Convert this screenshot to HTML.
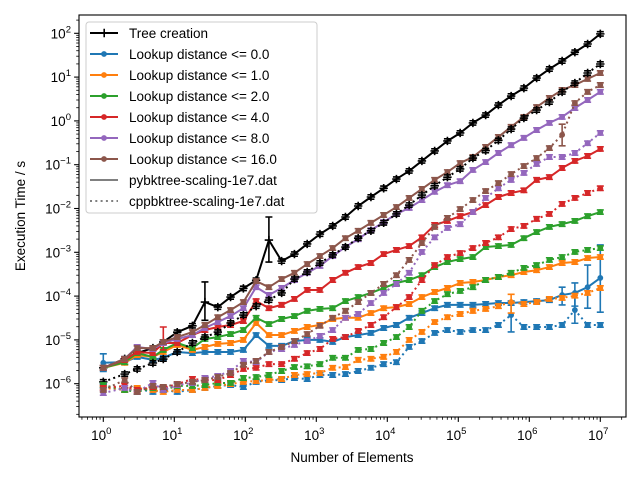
<!DOCTYPE html>
<html><head><meta charset="utf-8"><style>
html,body{margin:0;padding:0;background:#fff;}
svg{display:block;font-family:"Liberation Sans","DejaVu Sans",sans-serif;}
</style></head><body>
<svg id="chart" width="640" height="480" viewBox="0 0 640 480" xmlns="http://www.w3.org/2000/svg">
<rect x="0" y="0" width="640" height="480" fill="#fff"/>
<g id="plot"></g>
<g id="axes"></g>
<g id="legend"></g>
</svg>
<script>
const nElements = [1,2,3,5,7,11,18,27,41,62,94,142,215,325,492,744,1125,1701,2572,3889,5879,8891,13442,20323,30727,46458,70243,106198,160566,242762,367036,554925,838995,1268460,1917910,2899650,4384000,6628520,10000000];
const treePy = [2.3e-6,3.7e-6,5.0e-6,6.5e-6,9.0e-6,1.5e-5,2.1e-5,7.3e-5,5.6e-5,9.5e-5,1.5e-4,2.3e-4,1.9e-3,6.3e-4,9.1e-4,1.55e-3,2.6e-3,4.0e-3,6.4e-3,1.14e-2,1.83e-2,2.9e-2,4.7e-2,7.2e-2,0.122,0.206,0.348,0.53,0.90,1.36,2.3,3.7,5.6,9.5,15.3,23.3,37,57,97];
const bluePy = [3.0e-6,3.1e-6,4.1e-6,3.5e-6,3.9e-6,5.3e-6,5.0e-6,5.3e-6,5.3e-6,5.3e-6,5.9e-6,1.29e-5,7.3e-6,7.3e-6,9.4e-6,1.0e-5,1.0e-5,9.0e-6,1.16e-5,1.29e-5,1.44e-5,1.87e-5,2.19e-5,3.2e-5,4.1e-5,5.3e-5,6.3e-5,6.3e-5,6.3e-5,6.6e-5,6.95e-5,6.95e-5,7.3e-5,7.7e-5,8.1e-5,1.06e-4,1.18e-4,1.6e-4,2.6e-4];
const orangePy = [2.3e-6,3.0e-6,4.5e-6,4.1e-6,5.3e-6,7.7e-6,5.9e-6,6.9e-6,8.1e-6,8.5e-6,1.0e-5,2.43e-5,1.29e-5,1.29e-5,1.6e-5,1.97e-5,2.19e-5,3.0e-5,3.2e-5,3.2e-5,4.1e-5,5.3e-5,5.6e-5,6.6e-5,9.5e-5,1.24e-4,1.53e-4,1.99e-4,2.1e-4,2.33e-4,2.73e-4,3.0e-4,3.55e-4,3.9e-4,4.6e-4,5.7e-4,6.0e-4,7.4e-4,7.8e-4];
const greenPy = [2.3e-6,3.1e-6,5.0e-6,4.1e-6,5.9e-6,8.5e-6,6.5e-6,1.05e-5,1.16e-5,1.36e-5,1.68e-5,3.2e-5,2.3e-5,3.0e-5,3.5e-5,4.6e-5,5.1e-5,5.3e-5,7.7e-5,9.5e-5,1.18e-4,1.53e-4,1.99e-4,2.33e-4,3.0e-4,4.6e-4,6.0e-4,7.0e-4,7.8e-4,1.32e-3,1.39e-3,1.47e-3,2.1e-3,2.9e-3,3.8e-3,4.4e-3,5.2e-3,6.7e-3,8.3e-3];
const redPy = [2.3e-6,3.5e-6,5.3e-6,5.0e-6,8.5e-6,8.5e-6,1.29e-5,1.68e-5,1.97e-5,2.19e-5,2.7e-5,7.7e-5,5.3e-5,6.3e-5,8.6e-5,1.38e-4,1.38e-4,2.33e-4,3.4e-4,4.6e-4,5.7e-4,9.1e-4,1.13e-3,1.39e-3,2.2e-3,4.2e-3,5.2e-3,6.7e-3,8.3e-3,1.2e-2,1.83e-2,2.26e-2,2.6e-2,4.5e-2,5.2e-2,8.4e-2,0.122,0.158,0.229];
const purplePy = [2.3e-6,3.7e-6,6.9e-6,6.2e-6,8.5e-6,1.05e-5,1.29e-5,1.87e-5,2.56e-5,3.5e-5,5.3e-5,1.6e-4,1.06e-4,1.53e-4,2.33e-4,3.4e-4,4.9e-4,8.2e-4,1.32e-3,2.0e-3,3.2e-3,4.9e-3,7.5e-3,1.03e-2,1.56e-2,2.4e-2,3.4e-2,4.2e-2,7.6e-2,0.115,0.185,0.28,0.41,0.62,0.90,1.23,1.97,3.0,4.6];
const brownPy = [2.3e-6,3.7e-6,6.5e-6,6.5e-6,9.0e-6,1.16e-5,1.51e-5,2.19e-5,3.3e-5,4.8e-5,7.3e-5,2.2e-4,1.6e-4,2.45e-4,3.4e-4,5.4e-4,8.2e-4,1.25e-3,2.1e-3,3.1e-3,4.7e-3,7.1e-3,1.08e-2,1.74e-2,2.8e-2,4.5e-2,6.8e-2,0.109,0.15,0.254,0.43,0.73,1.23,2.07,3.33,5.1,6.6,9.1,12.4];
const treeCpp = [1.1e-6,1.66e-6,2.17e-6,2.97e-6,3.66e-6,5.3e-6,8.5e-6,1.16e-5,1.51e-5,2.43e-5,3.7e-5,5.9e-5,8.1e-5,1.18e-4,2.45e-4,3.55e-4,5.7e-4,8.7e-4,1.32e-3,2.1e-3,3.1e-3,4.7e-3,7.5e-3,1.2e-2,2.03e-2,3.3e-2,5.2e-2,8.0e-2,0.142,0.21,0.36,0.65,1.16,1.77,2.7,4.6,7.3,12.4,19.9];
const blueCpp = [8.9e-7,7.2e-7,7.6e-7,6.5e-7,7.2e-7,6.5e-7,7.2e-7,8.0e-7,8.9e-7,9.3e-7,8.4e-7,1.1e-6,1.21e-6,1.21e-6,1.35e-6,1.28e-6,1.58e-6,1.58e-6,1.66e-6,1.95e-6,2.3e-6,2.8e-6,3.1e-6,6.9e-6,9.4e-6,1.44e-5,1.68e-5,1.52e-5,1.68e-5,1.68e-5,2.19e-5,3.7e-5,1.97e-5,1.97e-5,1.97e-5,2.19e-5,4.8e-5,2.19e-5,2.19e-5];
const orangeCpp = [8.0e-7,7.2e-7,8.0e-7,7.2e-7,6.5e-7,7.2e-7,7.2e-7,8.0e-7,8.9e-7,9.8e-7,1.1e-6,1.15e-6,1.21e-6,1.28e-6,1.58e-6,1.66e-6,1.75e-6,2.3e-6,2.4e-6,3.5e-6,3.7e-6,4.1e-6,5.3e-6,1.0e-5,1.52e-5,2.56e-5,3.3e-5,3.9e-5,4.6e-5,5.1e-5,5.9e-5,7.3e-5,6.6e-5,7.3e-5,8.6e-5,9.1e-5,1.02e-4,1.18e-4,1.53e-4];
const greenCpp = [9.3e-7,7.2e-7,6.5e-7,8.0e-7,7.2e-7,8.9e-7,8.9e-7,9.3e-7,1.04e-6,1.04e-6,1.35e-6,1.42e-6,1.58e-6,1.95e-6,2.4e-6,2.5e-6,2.8e-6,3.9e-6,3.9e-6,5.9e-6,6.2e-6,8.5e-6,1.16e-5,1.97e-5,4.6e-5,7.7e-5,1.11e-4,1.31e-4,1.6e-4,2.33e-4,2.73e-4,3.4e-4,4.4e-4,5.1e-4,6.7e-4,7.8e-4,1.02e-3,1.13e-3,1.25e-3];
const redCpp = [8.0e-7,8.9e-7,7.2e-7,8.4e-7,8.0e-7,9.8e-7,1.28e-6,1.21e-6,1.21e-6,1.58e-6,2.17e-6,2.3e-6,2.8e-6,2.8e-6,3.7e-6,5.0e-6,6.2e-6,1.05e-5,1.16e-5,1.6e-5,2.19e-5,3.3e-5,5.6e-5,9.5e-5,2.33e-4,5.1e-4,7.8e-4,9.6e-4,1.25e-3,1.63e-3,2.2e-3,3.4e-3,4.0e-3,5.8e-3,7.5e-3,1.27e-2,1.74e-2,2.26e-2,2.9e-2];
const purpleCpp = [6.1e-7,8.0e-7,6.5e-7,1.04e-6,7.2e-7,9.3e-7,1.04e-6,1.35e-6,1.5e-6,1.95e-6,3.3e-6,3.1e-6,5.3e-6,6.2e-6,7.7e-6,9.4e-6,1.23e-5,1.68e-5,3.2e-5,3.9e-5,6.95e-5,1.18e-4,1.89e-4,3.4e-4,1.02e-3,2.2e-3,3.6e-3,4.4e-3,8.3e-3,1.74e-2,2.9e-2,4.5e-2,6.5e-2,0.104,0.15,0.15,0.185,0.31,0.53];
const brownCpp = [7.2e-7,1.21e-6,6.5e-7,8.9e-7,8.4e-7,9.8e-7,1.1e-6,1.21e-6,1.42e-6,1.75e-6,2.7e-6,3.3e-6,5.3e-6,6.9e-6,9.4e-6,1.36e-5,2.1e-5,3.2e-5,4.6e-5,7.3e-5,1.18e-4,1.89e-4,3.0e-4,6.7e-4,1.63e-3,3.8e-3,6.1e-3,9.7e-3,1.56e-2,2.5e-2,3.8e-2,6.1e-2,9.3e-2,0.142,0.24,0.48,2.56,4.6,6.6];
// large error bars: [seriesKey, index, low, high]
const bigErrors = [["treePy",7,2.8e-5,2.1e-4],["treePy",12,6.0e-4,6.4e-3],["redPy",4,5.9e-6,1.97e-5],["bluePy",0,1.9e-6,4.8e-6],["bluePy",35,6.3e-5,1.6e-4],["bluePy",36,5.9e-5,2.0e-4],["bluePy",37,5.3e-5,5.1e-4],["bluePy",38,4.3e-5,1.47e-3],["blueCpp",31,1.52e-5,7.3e-5],["blueCpp",36,2.4e-5,1.18e-4],["brownCpp",35,0.27,0.84],["orangeCpp",31,4.1e-5,1.1e-4]];
const xTickLabels = ["0","1","2","3","4","5","6","7"];
const yTickLabels = ["-6","-5","-4","-3","-2","-1","0","1","2"];

const L=79,R=626,T=15,B=417;
function xs(v){return 103.3+71*Math.log10(v);}
function ys(v){return 383.7-43.8*(Math.log10(v)+6);}
const NS="http://www.w3.org/2000/svg";
function mk(tag,attrs,parent){const e=document.createElementNS(NS,tag);for(const k in attrs)e.setAttribute(k,attrs[k]);parent.appendChild(e);return e;}
const plot=document.getElementById('plot'),axes=document.getElementById('axes'),legend=document.getElementById('legend');
const clip=mk('clipPath',{id:'pc'},plot);mk('rect',{x:L,y:T,width:R-L,height:B-T},clip);
const seriesList=[
 {key:"treePy",data:treePy,color:"#000000",dash:null,marker:"plus",name:"tree-creation-py"},
 {key:"bluePy",data:bluePy,color:"#1f77b4",dash:null,marker:"dot",name:"lookup-0-py"},
 {key:"orangePy",data:orangePy,color:"#ff7f0e",dash:null,marker:"dot",name:"lookup-1-py"},
 {key:"greenPy",data:greenPy,color:"#2ca02c",dash:null,marker:"dot",name:"lookup-2-py"},
 {key:"redPy",data:redPy,color:"#d62728",dash:null,marker:"dot",name:"lookup-4-py"},
 {key:"purplePy",data:purplePy,color:"#9467bd",dash:null,marker:"dot",name:"lookup-8-py"},
 {key:"brownPy",data:brownPy,color:"#8c564b",dash:null,marker:"dot",name:"lookup-16-py"},
 {key:"treeCpp",data:treeCpp,color:"#000000",dash:"2,3.3",marker:"plus",name:"tree-creation-cpp"},
 {key:"blueCpp",data:blueCpp,color:"#1f77b4",dash:"2,3.3",marker:"dot",name:"lookup-0-cpp"},
 {key:"orangeCpp",data:orangeCpp,color:"#ff7f0e",dash:"2,3.3",marker:"dot",name:"lookup-1-cpp"},
 {key:"greenCpp",data:greenCpp,color:"#2ca02c",dash:"2,3.3",marker:"dot",name:"lookup-2-cpp"},
 {key:"redCpp",data:redCpp,color:"#d62728",dash:"2,3.3",marker:"dot",name:"lookup-4-cpp"},
 {key:"purpleCpp",data:purpleCpp,color:"#9467bd",dash:"2,3.3",marker:"dot",name:"lookup-8-cpp"},
 {key:"brownCpp",data:brownCpp,color:"#8c564b",dash:"2,3.3",marker:"dot",name:"lookup-16-cpp"}];
const pg=mk('g',{'clip-path':'url(#pc)'},plot);
seriesList.forEach(s=>{
  const g=mk('g',{},pg);
  
  
  // error bars
  s.data.forEach((v,i)=>{
    let lo=v/1.12,hi=v*1.12;
    bigErrors.forEach(b=>{if(b[0]===s.key&&b[1]===i){lo=b[2];hi=b[3];}});
    const x=xs(nElements[i]),y1=ys(lo),y2=ys(hi);
    const eb=mk('path',{d:`M${x},${y1}V${y2}M${x-3.5},${y1}h7M${x-3.5},${y2}h7`,stroke:s.color,'stroke-width':1.6,fill:'none'},g);
    
    
  });
  const pts=s.data.map((v,i)=>xs(nElements[i]).toFixed(2)+','+ys(v).toFixed(2)).join(' ');
  const line=mk('polyline',{points:pts,fill:'none',stroke:s.color,'stroke-width':2,'stroke-linejoin':'round'},g);
  if(s.dash)line.setAttribute('stroke-dasharray',s.dash);
  
  
  s.data.forEach((v,i)=>{
    const x=xs(nElements[i]),y=ys(v);
    let m;
    if(s.marker==='plus'){m=mk('path',{d:`M${x-4.2},${y}h8.4M${x},${y-4.2}v8.4`,stroke:s.color,'stroke-width':1.6},g);}
    else{m=mk('circle',{cx:x,cy:y,r:2.9,fill:s.color},g);}
    
    
  });
});
// frame
mk('rect',{x:L,y:T,width:R-L,height:B-T,fill:'none',stroke:'#000','stroke-width':1.1},axes);
// x ticks
for(let d=-1;d<=7;d++){
  for(let m=1;m<10;m++){
    const v=m*Math.pow(10,d),x=xs(v);
    if(x<L||x>R)continue;
    mk('line',{x1:x,x2:x,y1:B,y2:B+(m===1?4.9:2.8),stroke:'#000','stroke-width':m===1?1.1:0.8},axes);
  }
}
xTickLabels.forEach(e=>{
  const t=mk('text',{x:xs(Math.pow(10,+e))-2,y:B+23,'text-anchor':'middle','font-size':13.5,fill:'#000'},axes);
  
  
  t.appendChild(document.createTextNode('10'));
  const s=mk('tspan',{dy:-6,'font-size':9.5},t);s.textContent=e;
});
for(let d=-7;d<=2;d++){
  for(let m=1;m<10;m++){
    const v=m*Math.pow(10,d),y=ys(v);
    if(y<T||y>B)continue;
    mk('line',{x1:L,x2:L-(m===1?4.9:2.8),y1:y,y2:y,stroke:'#000','stroke-width':m===1?1.1:0.8},axes);
  }
}
yTickLabels.forEach(e=>{
  const t=mk('text',{x:L-8,y:ys(Math.pow(10,+e))+5,'text-anchor':'end','font-size':13.5,fill:'#000'},axes);
  
  
  t.appendChild(document.createTextNode('10'));
  const s=mk('tspan',{dy:-6,'font-size':9.5},t);s.textContent=e.replace('-','\u2212');
});
const xt=mk('text',{x:352,y:462,'text-anchor':'middle','font-size':13.5},axes);xt.textContent='Number of Elements';

const yt=mk('text',{x:0,y:0,transform:'translate(25,216) rotate(-90)','text-anchor':'middle','font-size':13.5},axes);yt.textContent='Execution Time / s';

// legend
const lb=mk('rect',{x:86,y:22,width:231,height:191,rx:3,fill:'#fff','fill-opacity':0.8,stroke:'#cccccc','stroke-width':1},legend);

const legendLabels=["Tree creation","Lookup distance <= 0.0","Lookup distance <= 1.0","Lookup distance <= 2.0","Lookup distance <= 4.0","Lookup distance <= 8.0","Lookup distance <= 16.0","pybktree-scaling-1e7.dat","cppbktree-scaling-1e7.dat"];
const legendColors=["#000000","#1f77b4","#ff7f0e","#2ca02c","#d62728","#9467bd","#8c564b","#808080","#808080"];
legendLabels.forEach((lab,i)=>{
  const y=33+21*i;
  const g=mk('g',{},legend);
  
  
  const ln=mk('line',{x1:90,x2:118,y1:y,y2:y,stroke:legendColors[i],'stroke-width':2},g);
  if(i===8)ln.setAttribute('stroke-dasharray','2,3.3');
  if(i===0)mk('path',{d:`M${100},${y}h8.4M104.2,${y-4.2}v8.4`,stroke:'#000','stroke-width':1.6},g);
  else if(i<7)mk('circle',{cx:104,cy:y,r:2.9,fill:legendColors[i]},g);
  const t=mk('text',{x:129,y:y+5,'font-size':13.5,fill:'#000'},g);t.textContent=lab;
});
</script>
</body></html>
